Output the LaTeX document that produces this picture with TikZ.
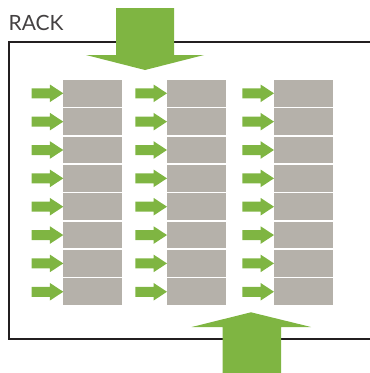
\documentclass[tikz,border=0pt]{standalone}
\usepackage{fontspec}
\setmainfont{Lato}
\definecolor{leaf}{HTML}{7FB542}
\definecolor{unitgray}{HTML}{B5B1AA}
\definecolor{frame}{HTML}{231F20}
\begin{document}
\begin{tikzpicture}[x=1pt,y=-1pt,
  unit/.style={fill=unitgray,draw=none,minimum width=58.7pt,minimum height=26.6pt,inner sep=0pt,outer sep=0pt},
  greenfill/.style={fill=leaf,draw=none},
  rackframe/.style={draw=frame,line width=2pt}]
\useasboundingbox (0,0) rectangle (370,373);
% frame
\draw[rackframe] (371,42) -- (8.5,42) -- (8.5,338.5) -- (371,338.5);
\node[anchor=base west,inner sep=0pt,font=\fontsize{21}{24}\selectfont,text=frame!85] (label) at (8.5,30) {RACK};
% rack units and inlet arrows
\foreach \c/\x in {1/92.65,2/196.35,3/303.35}{
  \foreach \r in {0,...,7}{
    \node[unit] (u\c\r) at (\x,{93.3+\r*28.35}) {};
    \fill[greenfill] (u\c\r.west) -- ++(-13.4,-8.8) -- ++(0,3.8) -- ++(-18.3,0) -- ++(0,10) -- ++(18.3,0) -- ++(0,3.8) -- cycle;
  }
}
% top big arrow
\coordinate (toptip) at (145,70);
\fill[greenfill] (toptip) -- (86,55) -- (116,55) -- (116,8) -- (174,8) -- (174,55) -- (204,55) -- cycle;
% bottom big arrow
\coordinate (bottip) at (251,312.3);
\fill[greenfill] (bottip) -- (311,327) -- (281,327) -- (281,374) -- (222.7,374) -- (222.7,327) -- (191.7,327) -- cycle;
\end{tikzpicture}
\end{document}
